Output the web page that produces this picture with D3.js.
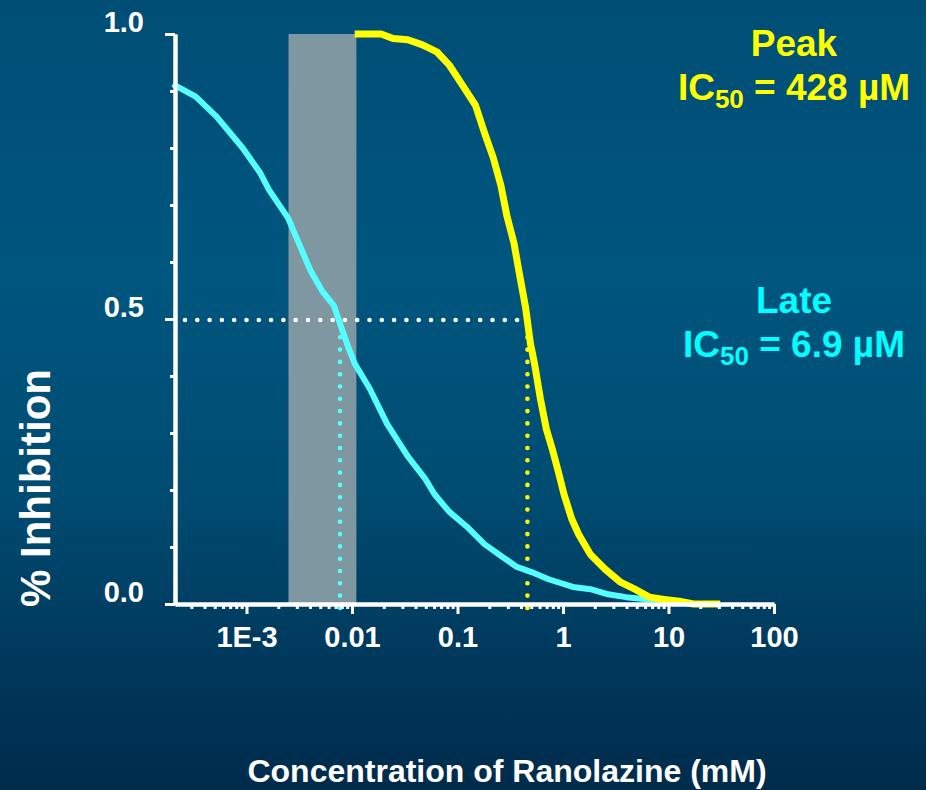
<!DOCTYPE html>
<html>
<head>
	<title>Ranolazine inhibition</title>
	<meta charset="utf-8"/>
	<script src="https://d3js.org/d3.v7.min.js" charset="utf-8"></script>
	<style>
		body{
			margin:0;
			padding:0;
			overflow:hidden;
		}
		text{
			font-family:"Liberation Sans",Arial,sans-serif;
			font-weight:bold;
		}
	</style>
	<script>
		// late Na current
		var lateConc = [0.0002,0.00033,0.00052,0.00092,0.00135,0.00164,0.00248,0.00313,0.00404,0.00522,0.00676,0.00769,0.00933,0.0106,0.0147,0.0215,0.0338,0.0497,0.0603,0.0832,0.122,0.180,0.265,0.365,0.503,0.740,1.24,1.82,2.68,3.95,6.59,9.72];
		var lateInh  = [0.912,0.890,0.855,0.800,0.756,0.726,0.677,0.633,0.585,0.549,0.523,0.492,0.448,0.422,0.378,0.316,0.259,0.219,0.193,0.162,0.136,0.105,0.083,0.065,0.056,0.043,0.030,0.026,0.017,0.012,0.008,0.008];

		// peak Na current, yellow curve
		var peakConc = [0.0106,0.0189,0.0245,0.0338,0.0466,0.0643,0.0832,0.107,0.148,0.180,0.218,0.258,0.293,0.343,0.389,0.443,0.491,0.537,0.611,0.695,0.791,0.900,1.02,1.21,1.41,1.82,2.51,3.47,4.79,6.59,9.10,12.6,17.3,30.9];
		var peakInh  = [1.0,1.0,0.992,0.990,0.981,0.968,0.946,0.915,0.875,0.827,0.783,0.734,0.682,0.633,0.576,0.519,0.457,0.422,0.360,0.307,0.272,0.233,0.193,0.149,0.122,0.087,0.061,0.039,0.026,0.012,0.008,0.005,0.0,0.0];

		var rangeBand = [0.0025,0.011];      // grey shaded concentration band
		var halfLines = [0.0077,0.46];       // where the dotted 50% drops sit

		var xMajor = [0.001,0.01,0.1,1,10,100];
		var xLabels = ["1E-3","0.01","0.1","1","10","100"];
		var yMajor = [0,0.5,1];
		var yLabels = ["0.0","0.5","1.0"];

		function init(){
			var W=926,H=790;
			var svg=d3.select('body').append('svg')
				.attr('width',W)
				.attr('height',H);

			var grad=svg.append('defs').append('linearGradient')
				.attr('id','bg').attr('x1',0).attr('y1',0).attr('x2',0).attr('y2',1);
			[[0,'#004e76'],[0.35,'#00567f'],[0.62,'#004c72'],[0.85,'#00375b'],[1,'#002b4b']].forEach(function(s){
				grad.append('stop').attr('offset',s[0]).attr('stop-color',s[1]);
			});
			svg.append('rect').attr('width',W).attr('height',H).attr('fill','url(#bg)');

			var x=d3.scaleLog().domain([2.1e-4,100]).range([175,774]);
			var y=d3.scaleLinear().domain([0,1]).range([604,34]);

			// shaded band
			svg.append('rect')
				.attr('x',x(rangeBand[0]))
				.attr('y',y(1))
				.attr('width',x(rangeBand[1])-x(rangeBand[0]))
				.attr('height',y(0)-y(1))
				.attr('fill','#7f97a0');

			// dotted 50% guides
			var dots=svg.append('g')
				.attr('stroke-width',4.6)
				.attr('stroke-linecap','round')
				.attr('stroke-dasharray','0 12.3');
			dots.append('line')
				.attr('x1',x(2.1e-4)+10).attr('x2',x(halfLines[1]))
				.attr('y1',y(0.5)+1).attr('y2',y(0.5)+1)
				.attr('stroke','#ffffff');
			dots.append('line')
				.attr('x1',x(halfLines[0])).attr('x2',x(halfLines[0]))
				.attr('y1',y(0.5)+6).attr('y2',y(0)+12)
				.attr('stroke','#55ffff');
			dots.append('line')
				.attr('x1',x(halfLines[1])).attr('x2',x(halfLines[1]))
				.attr('y1',y(0.5)+6).attr('y2',y(0)+12)
				.attr('stroke','#ffff00');

			var line=d3.line()
				.x(function(d){return x(d[0]);})
				.y(function(d){return y(d[1]);});

			svg.append('path')
				.datum(d3.zip(lateConc,lateInh))
				.attr('d',line)
				.attr('fill','none')
				.attr('stroke','#55ffff')
				.attr('stroke-width',6)
				.attr('stroke-linejoin','round');

			svg.append('path')
				.datum(d3.zip(peakConc,peakInh))
				.attr('d',line)
				.attr('fill','none')
				.attr('stroke','#ffff00')
				.attr('stroke-width',7)
				.attr('stroke-linejoin','round');

			// x axis: minor then major ticks
			var xMinor=[];
			for(var e=-4;e<=1;e++){
				for(var k=2;k<=9;k++){
					var v=k*Math.pow(10,e);
					if(v>=2.1e-4&&v<=100)xMinor.push(v);
				}
			}
			var gxm=svg.append('g').attr('transform','translate(0,'+y(0)+')')
				.call(d3.axisBottom(x).tickValues(xMinor).tickSize(5).tickSizeOuter(0).tickFormat(''));
			var gx=svg.append('g').attr('transform','translate(0,'+y(0)+')')
				.call(d3.axisBottom(x).tickValues(xMajor).tickSize(10).tickSizeOuter(0)
					.tickFormat(function(d,i){return xLabels[i];}));

			// y axis
			var gym=svg.append('g').attr('transform','translate('+x(2.1e-4)+',0)')
				.call(d3.axisLeft(y).tickValues(d3.range(0,11).map(function(i){return i/10;})).tickSize(5).tickSizeOuter(0).tickFormat(''));
			var gy=svg.append('g').attr('transform','translate('+x(2.1e-4)+',0)')
				.call(d3.axisLeft(y).tickValues(yMajor).tickSize(10).tickSizeOuter(0)
					.tickFormat(function(d,i){return yLabels[i];}));

			[gxm,gx,gym,gy].forEach(function(g){
				g.select('.domain').attr('stroke','#ffffff').attr('stroke-width',4);
				g.selectAll('.tick line').attr('stroke','#ffffff').attr('stroke-width',3);
			});
			gx.selectAll('.tick text')
				.attr('y',43).attr('dy',0)
				.attr('fill','#ffffff')
				.style('font-size','29px');
			gy.selectAll('.tick text')
				.attr('x',-31).attr('y',-3).attr('dy',0)
				.attr('fill','#ffffff')
				.style('font-size','29px');

			// axis titles
			svg.append('text')
				.attr('x',507).attr('y',782)
				.attr('text-anchor','middle')
				.attr('fill','#ffffff')
				.style('font-size','32px')
				.text('Concentration of Ranolazine (mM)');
			svg.append('text')
				.attr('transform','translate(50,488) rotate(-90)')
				.attr('text-anchor','middle')
				.attr('fill','#ffffff')
				.style('font-size','42px')
				.text('% Inhibition');

			// IC50 notes
			var notes=[
				{name:'Peak',val:' = 428 \u00b5M',color:'#ffff00',y:56},
				{name:'Late',val:' = 6.9 \u00b5M',color:'#00ffff',y:313}
			];
			notes.forEach(function(n){
				svg.append('text')
					.attr('x',794).attr('y',n.y)
					.attr('text-anchor','middle')
					.attr('fill',n.color)
					.style('font-size','37px')
					.text(n.name);
				var t=svg.append('text')
					.attr('x',794).attr('y',n.y+44)
					.attr('text-anchor','middle')
					.attr('fill',n.color)
					.style('font-size','37px');
				t.append('tspan').text('IC');
				t.append('tspan').attr('dy',8).style('font-size','26px').text('50');
				t.append('tspan').attr('dy',-8).text(n.val);
			});
		}
	</script>
</head>
<body onLoad="init()">
</body>
</html>
